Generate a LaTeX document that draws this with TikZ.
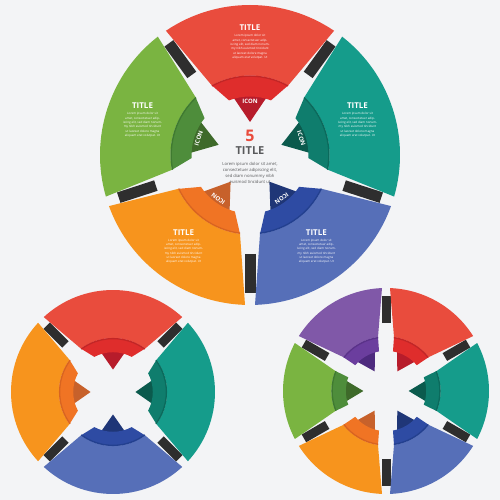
\documentclass[tikz,border=0pt]{standalone}
\usepackage{fontspec}
\setmainfont{Open Sans}

\definecolor{paper}{HTML}{F3F4F6}
\definecolor{barblack}{HTML}{2E2E2E}
\definecolor{greytext}{HTML}{595A5C}
\definecolor{mainred}{HTML}{E94C3D}
\definecolor{bandred}{HTML}{DF2D2C}
\definecolor{iconred}{HTML}{B71C2B}
\definecolor{linered}{HTML}{C22626}
\definecolor{mainteal}{HTML}{159C8B}
\definecolor{bandteal}{HTML}{0F7D6D}
\definecolor{iconteal}{HTML}{0B5A4D}
\definecolor{lineteal}{HTML}{0B6A5C}
\definecolor{mainblue}{HTML}{566FB8}
\definecolor{bandblue}{HTML}{2E4BA3}
\definecolor{iconblue}{HTML}{1F3677}
\definecolor{lineblue}{HTML}{23408F}
\definecolor{mainorange}{HTML}{F7941D}
\definecolor{bandorange}{HTML}{F07424}
\definecolor{iconorange}{HTML}{C7612B}
\definecolor{lineorange}{HTML}{D86420}
\definecolor{maingreen}{HTML}{7AB441}
\definecolor{bandgreen}{HTML}{4E8D3B}
\definecolor{icongreen}{HTML}{3E6A2A}
\definecolor{linegreen}{HTML}{3F7A30}
\definecolor{mainpurple}{HTML}{8058A8}
\definecolor{bandpurple}{HTML}{6B3E9E}
\definecolor{iconpurple}{HTML}{4D2A7E}
\definecolor{linepurple}{HTML}{5A3289}

\tikzset{
  gapbar/.style={draw=barblack},
  seglabel/.style={align=center, text=white, inner sep=0pt, font=\fontsize{3}{4.3}\selectfont},
  icontext/.style={text=white, inner sep=0pt, font=\fontsize{6}{6}\selectfont\bfseries},
}

% #1,#2 centre, #3 radius, #4 pieces, #5 half gap, #6 band angle, #7 icon angle, #8 angle/colour
\newcommand{\wheel}[8]{%
  \pgfmathsetmacro\halfang{180/#4}
  \pgfmathsetmacro\rband{0.53*#3}
  \pgfmathsetmacro\rshade{0.53*#3-0.7}
  \pgfmathsetmacro\rinner{0.39*#3}
  \pgfmathsetmacro\angout{\halfang-asin(#5/#3)}
  \pgfmathsetmacro\angmid{\halfang-asin(2*#5/\rband)}
  \pgfmathsetmacro\tipy{0.22*#3}
  \pgfmathsetmacro\topy{\rinner+3}
  \pgfmathsetmacro\tipw{(\topy-\tipy)*tan(#7)}
  \pgfmathsetmacro\barw{2*#5+1}
  \pgfmathsetmacro\barin{0.66*#3}
  \pgfmathsetmacro\barout{0.92*#3}
  % bars under the gaps
  \foreach \ang/\col in {#8}{
    \begin{scope}[shift={(#1,#2)}, rotate=\ang-90]
      \draw[gapbar, line width=\barw pt] (90+\halfang:\barin) -- (90+\halfang:\barout);
    \end{scope}
  }
  \foreach \ang/\col in {#8}{
    \begin{scope}[shift={(#1,#2)}, rotate=\ang-90]
      \fill[main\col] (90-\angout:#3) arc[start angle=90-\angout, end angle=90+\angout, radius=#3 pt]
        -- (90+\angmid:\rband) arc[start angle=90+\angmid, end angle=90-\angmid, radius=\rband pt] -- cycle;
      \fill[icon\col] (0,\tipy) -- (\tipw,\topy) -- (-\tipw,\topy) -- cycle;
      \fill[band\col] (90-\angmid:\rband) arc[start angle=90-\angmid, end angle=90+\angmid, radius=\rband pt]
        -- (90+#6:\rinner) arc[start angle=90+#6, end angle=90-#6, radius=\rinner pt] -- cycle;
      \draw[line\col, line width=1.3pt] (90-\angmid:\rshade) arc[start angle=90-\angmid, end angle=90+\angmid, radius=\rshade pt];
    \end{scope}
  }
}

\begin{document}
\begin{tikzpicture}[x=1pt, y=1pt]
\fill[paper] (0,0) rectangle (500,500);
\useasboundingbox (0,0) rectangle (500,500);

% five pieces
\wheel{250}{345}{150}{5}{5}{21}{34}{90/red, 18/teal, -54/blue, -126/orange, 162/green}
% four pieces
\wheel{113}{108}{102}{4}{4}{28}{35}{90/red, 0/teal, -90/blue, 180/orange}
% six pieces
\wheel{386}{109}{103}{6}{4}{20}{31}{120/purple, 60/red, 0/teal, -60/blue, -120/orange, 180/green}

\begin{scope}[shift={(250,345)}]
\foreach \ang/\nm in {90/red, 18/teal, -54/blue, -126/orange, 162/green}{
  \node[seglabel] (title-\nm) at (\ang:113) {{\fontsize{8}{8}\selectfont\bfseries TITLE}\\[2pt]
    Lorem ipsum dolor sit\\ amet, consectetuer adip-\\ iscing elit, sed diam nonum-\\
    my nibh euismod tincidunt\\ ut laoreet dolore magna\\ aliquam erat volutpat. Ut};
  \node[icontext, rotate=\ang-90] (icon-\nm) at (\ang:54) {ICON};
}
\end{scope}

\node[text=mainred, font=\fontsize{16}{16}\selectfont\bfseries, inner sep=0pt] (num) at (250,364) {5};
\node[text=greytext, font=\fontsize{11}{11}\selectfont\bfseries, inner sep=0pt] (midtitle) at (250,349) {TITLE};
\node[text=greytext, align=center, inner sep=0pt, font=\fontsize{4.2}{6}\selectfont] (midtext) at (250,327)
  {Lorem ipsum dolor sit amet,\\ consectetuer adipiscing elit,\\ sed diam nonummy nibh\\ euismod tincidunt ut};
\end{tikzpicture}
\end{document}
